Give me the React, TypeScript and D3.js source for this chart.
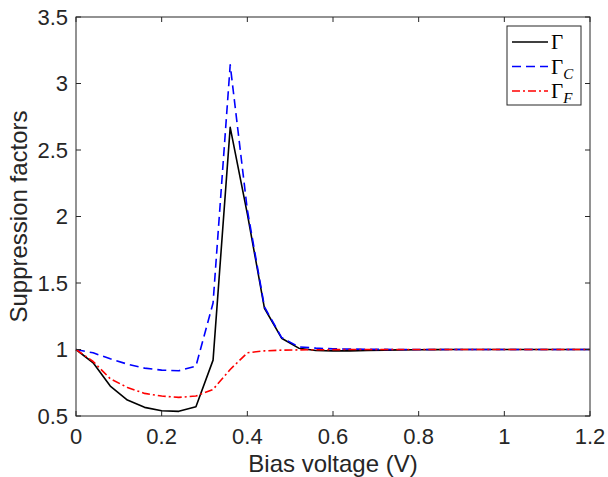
import React from 'react'
import * as d3 from 'd3'

// bias voltage samples (V)
const bias = [0, 0.04, 0.08, 0.12, 0.16, 0.2, 0.24, 0.28, 0.32, 0.36, 0.4, 0.44, 0.48, 0.52, 0.56, 0.6,
  0.64, 0.68, 0.72, 0.76, 0.8, 0.84, 0.88, 0.92, 0.96, 1.0, 1.04, 1.08, 1.12, 1.16, 1.2]

const gammaTotal = [1.0, 0.9, 0.725, 0.62, 0.565, 0.54, 0.535, 0.57, 0.92, 2.67, 2.02, 1.31, 1.085, 1.01, 0.993,
  0.99, 0.99, 0.993, 0.995, 0.997, 0.998, 0.999, 1.0, 1.0, 1.0, 1.0, 1.0, 1.0, 1.0, 1.0, 1.0]
const gammaC = [1.0, 0.975, 0.93, 0.89, 0.86, 0.845, 0.84, 0.875, 1.35, 3.14, 2.05, 1.32, 1.09, 1.02, 1.01,
  1.005, 1.003, 1.002, 1.001, 1.0, 1.0, 1.0, 1.0, 1.0, 1.0, 1.0, 1.0, 1.0, 1.0, 1.0, 1.0]
const gammaF = [1.0, 0.91, 0.78, 0.715, 0.67, 0.65, 0.64, 0.65, 0.7, 0.85, 0.975, 0.99, 0.995, 0.997, 0.998,
  0.999, 1.0, 1.0, 1.0, 1.0, 1.0, 1.0, 1.0, 1.0, 1.0, 1.0, 1.0, 1.0, 1.0, 1.0, 1.0]

const xTicks = [0, 0.2, 0.4, 0.6, 0.8, 1, 1.2]
const yTicks = [0.5, 1, 1.5, 2, 2.5, 3, 3.5]

const series = [
  { name: 'Γ', sub: '', values: gammaTotal, color: '#000000', dash: null },
  { name: 'Γ', sub: 'C', values: gammaC, color: '#0000ff', dash: '9,5' },
  { name: 'Γ', sub: 'F', values: gammaF, color: '#ff0000', dash: '8,3,2,3' },
]

const W = 608
const H = 477
const margin = { top: 17, right: 18, bottom: 61, left: 76 }
const axisColor = '#262626'
const sans = '"Liberation Sans", Arial, Helvetica, sans-serif'
const serif = '"Liberation Serif", "Times New Roman", serif'

export default function App() {
  const innerW = W - margin.left - margin.right
  const innerH = H - margin.top - margin.bottom

  const x = d3.scaleLinear().domain([0, 1.2]).range([0, innerW])
  const y = d3.scaleLinear().domain([0.5, 3.5]).range([innerH, 0])

  const line = (vals: number[]) =>
    d3.line<number>()
      .x((_, i) => x(bias[i]))
      .y(d => y(d))(vals) || ''

  const tickLen = 5

  return (
    <svg width={W} height={H} style={{ position: 'absolute', left: 0, top: 0, background: '#fff' }}>
      <rect x={0} y={0} width={W} height={H} fill="#fff" />
      <g transform={`translate(${margin.left},${margin.top})`}>
        {/* curves */}
        {series.map((s, i) => (
          <path key={i} d={line(s.values)} fill="none" stroke={s.color} strokeWidth={1.6}
            strokeDasharray={s.dash || undefined} strokeLinejoin="round" />
        ))}

        {/* axes box */}
        <rect x={0} y={0} width={innerW} height={innerH} fill="none" stroke={axisColor} strokeWidth={1} />

        {/* x ticks */}
        {xTicks.map(t => (
          <g key={'x' + t}>
            <line x1={x(t)} x2={x(t)} y1={innerH} y2={innerH - tickLen} stroke={axisColor} />
            <line x1={x(t)} x2={x(t)} y1={0} y2={tickLen} stroke={axisColor} />
            <text x={x(t)} y={innerH + 28} textAnchor="middle" fontFamily={sans} fontSize={22} fill={axisColor}>
              {String(t)}
            </text>
          </g>
        ))}

        {/* y ticks */}
        {yTicks.map(t => (
          <g key={'y' + t}>
            <line x1={0} x2={tickLen} y1={y(t)} y2={y(t)} stroke={axisColor} />
            <line x1={innerW} x2={innerW - tickLen} y1={y(t)} y2={y(t)} stroke={axisColor} />
            <text x={-8} y={y(t)} dy="0.36em" textAnchor="end" fontFamily={sans} fontSize={22} fill={axisColor}>
              {String(t)}
            </text>
          </g>
        ))}

        {/* axis labels */}
        <text x={innerW / 2} y={innerH + 56} textAnchor="middle" fontFamily={sans} fontSize={24} fill={axisColor}>
          Bias voltage (V)
        </text>
        <text transform={`translate(${-margin.left + 27},${innerH / 2}) rotate(-90)`} textAnchor="middle"
          fontFamily={sans} fontSize={24} fill={axisColor}>
          Suppression factors
        </text>

        {/* legend */}
        <g transform={`translate(${innerW - 83},9)`}>
          <rect x={0} y={0} width={74} height={79} fill="#fff" stroke={axisColor} strokeWidth={1} />
          {series.map((s, i) => (
            <g key={'l' + i} transform={`translate(0,${16 + i * 24.5})`}>
              <line x1={5} x2={41} y1={0} y2={0} stroke={s.color} strokeWidth={1.6}
                strokeDasharray={s.dash || undefined} />
              <text x={44} y={7} fontFamily={serif} fontSize={21} fill="#000">
                {s.name}
                {s.sub && <tspan fontStyle="italic" fontSize={15} dy={5}>{s.sub}</tspan>}
              </text>
            </g>
          ))}
        </g>
      </g>
    </svg>
  )
}
